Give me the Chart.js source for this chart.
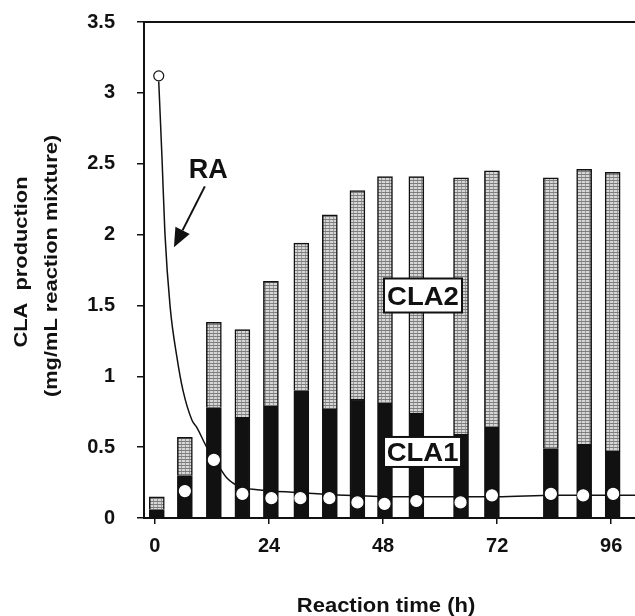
<!DOCTYPE html>
<html>
<head>
<meta charset="utf-8">
<script src="https://cdn.jsdelivr.net/npm/chart.js@4.4.0/dist/chart.umd.min.js"></script>
<style>
  html, body { margin: 0; padding: 0; background: #fff; }
  canvas { display: block; }
</style>
</head>
<body>
<canvas id="myChart" width="635" height="616"></canvas>
<script>
// sampling times (h) as placed in the figure
const times = [0.4, 6.3, 12.4, 18.4, 24.4, 30.8, 36.8, 42.6, 48.4, 55, 64.4, 70.9, 83.3, 90.3, 96.3];
const cla1 = [0.06, 0.30, 0.78, 0.71, 0.79, 0.90, 0.77, 0.84, 0.81, 0.74, 0.59, 0.64, 0.49, 0.52, 0.47];
const cla2 = [0.09, 0.27, 0.60, 0.62, 0.88, 1.04, 1.37, 1.47, 1.60, 1.67, 1.81, 1.81, 1.91, 1.94, 1.97];

const raTimes = [0.8, 6.3, 12.4, 18.4, 24.5, 30.6, 36.7, 42.6, 48.3, 55, 64.3, 70.9, 83.3, 90.1, 96.4];
const ra = [3.12, 0.19, 0.41, 0.17, 0.14, 0.14, 0.14, 0.11, 0.10, 0.12, 0.11, 0.16, 0.17, 0.16, 0.17];

// fitted RA curve
const fitTimes = [0.8, 1.5, 2.1, 3.2, 4.6, 5.9, 7.8, 8.8, 10.9, 13, 15.2, 17.9, 21.5, 30, 40, 50, 60, 72, 84, 96, 101];
const fitRa = [3.08, 2.53, 2.01, 1.49, 1.14, 0.90, 0.69, 0.64, 0.50, 0.39, 0.28, 0.22, 0.20, 0.18, 0.16, 0.15, 0.15, 0.15, 0.16, 0.16, 0.16];

const xTicks = [0, 24, 48, 72, 96];
const yTicks = [0, 0.5, 1, 1.5, 2, 2.5, 3, 3.5];

const FONT = "'Liberation Sans', Arial, Helvetica, sans-serif";
const INK = '#111';

let canvas = document.getElementById('myChart');
let ctx0 = canvas.getContext('2d');

function stipple() {
  let c = document.createElement('canvas');
  c.width = 4;
  c.height = 3;
  let g = c.getContext('2d');
  g.fillStyle = '#d6d6d6';
  g.fillRect(0, 0, 4, 3);
  g.fillStyle = '#7e7e7e';
  g.fillRect(0, 0, 4, 1);
  g.fillStyle = '#9a9a9a';
  g.fillRect(1, 1, 1, 2);
  return ctx0.createPattern(c, 'repeat');
}

function txt(ctx, s, x, y, size, sx, rot) {
  ctx.save();
  ctx.translate(x, y);
  if (rot) ctx.rotate(rot);
  ctx.scale(sx, 1);
  ctx.font = 'bold ' + size + 'px ' + FONT;
  ctx.textAlign = 'center';
  ctx.textBaseline = 'alphabetic';
  ctx.fillStyle = INK;
  ctx.fillText(s, 0, 0);
  ctx.restore();
}

function box(ctx, s, cx, cy, w, h, size, sx) {
  ctx.save();
  ctx.fillStyle = '#fff';
  ctx.strokeStyle = INK;
  ctx.lineWidth = 2;
  ctx.fillRect(cx - w / 2, cy - h / 2, w, h);
  ctx.strokeRect(cx - w / 2, cy - h / 2, w, h);
  ctx.restore();
  txt(ctx, s, cx, cy + size * 0.36, size, sx);
}

const labels = {
  id: 'labels',
  afterDatasetsDraw(chart) {
    const { ctx, chartArea: a, scales: { x, y } } = chart;
    ctx.save();
    ctx.strokeStyle = INK;
    ctx.lineWidth = 2;
    ctx.beginPath();
    ctx.moveTo(a.left, a.top);
    ctx.lineTo(a.right, a.top);
    ctx.stroke();

    // RA label + arrow
    txt(ctx, 'RA', x.getPixelForValue(11.2), y.getPixelForValue(2.40), 27, 1);
    let x1 = x.getPixelForValue(10.5), y1 = y.getPixelForValue(2.34);
    let x2 = x.getPixelForValue(4.0), y2 = y.getPixelForValue(1.91);
    let ang = Math.atan2(y2 - y1, x2 - x1);
    let bx = x2 - 19 * Math.cos(ang), by = y2 - 19 * Math.sin(ang);
    ctx.beginPath();
    ctx.moveTo(x1, y1);
    ctx.lineTo(bx, by);
    ctx.stroke();
    ctx.fillStyle = INK;
    ctx.beginPath();
    ctx.moveTo(x2, y2);
    ctx.lineTo(bx + 8 * Math.sin(ang), by - 8 * Math.cos(ang));
    ctx.lineTo(bx - 8 * Math.sin(ang), by + 8 * Math.cos(ang));
    ctx.closePath();
    ctx.fill();
    ctx.restore();

    box(ctx, 'CLA2', x.getPixelForValue(56.4), y.getPixelForValue(1.57), 78, 34, 25, 1.1);
    box(ctx, 'CLA1', x.getPixelForValue(56.3), y.getPixelForValue(0.466), 77, 30, 25, 1.1);
  },
  afterDraw(chart) {
    const { ctx } = chart;
    txt(ctx, 'Reaction time (h)', 386, 612, 20, 1.1);
    txt(ctx, 'CLA  production', 27, 262, 19, 1.15, -Math.PI / 2);
    txt(ctx, '(mg/mL reaction mixture)', 57, 266, 19, 1.15, -Math.PI / 2);
  }
};

new Chart(canvas, {
  type: 'bar',
  data: {
    datasets: [
      {
        label: 'CLA1',
        data: times.map((t, i) => ({ x: t, y: cla1[i] })),
        backgroundColor: INK,
        borderColor: INK,
        borderWidth: 1.5,
        barThickness: 15,
        stack: 'cla',
        order: 2,
      },
      {
        label: 'CLA2',
        data: times.map((t, i) => ({ x: t, y: cla2[i] })),
        backgroundColor: stipple(),
        borderColor: INK,
        borderWidth: 1.5,
        barThickness: 15,
        stack: 'cla',
        order: 2,
      },
      {
        type: 'line',
        label: 'RA fit',
        data: fitTimes.map((t, i) => ({ x: t, y: fitRa[i] })),
        borderColor: INK,
        borderWidth: 1.5,
        pointRadius: 0,
        cubicInterpolationMode: 'monotone',
        stack: 'fit',
        order: 1,
      },
      {
        type: 'line',
        label: 'RA',
        data: raTimes.map((t, i) => ({ x: t, y: ra[i] })),
        showLine: false,
        pointRadius: ra.map((v, i) => (i == 0 ? 5 : 5.5)),
        pointBackgroundColor: '#fff',
        pointBorderColor: ra.map((v, i) => (i == 0 ? INK : '#fff')),
        pointBorderWidth: 1.2,
        stack: 'ra',
        order: 0,
      },
    ],
  },
  options: {
    responsive: false,
    animation: false,
    devicePixelRatio: 1,
    layout: { autoPadding: false, padding: { top: 22, left: 0, right: 0, bottom: 0 } },
    plugins: { legend: { display: false }, tooltip: { enabled: false } },
    scales: {
      x: {
        type: 'linear',
        min: -2.3,
        max: 101,
        offset: false,
        afterBuildTicks: (s) => { s.ticks = xTicks.map((v) => ({ value: v })); },
        afterFit: (s) => { s.height = 98; s.paddingLeft = 0; s.paddingRight = 0; },
        grid: { offset: false, drawOnChartArea: false, tickLength: 6, color: INK, lineWidth: 1.5 },
        border: { color: INK, width: 2 },
        ticks: {
          padding: 10,
          color: INK,
          autoSkip: false,
          maxRotation: 0,
          callback: (v) => String(v),
          font: { family: FONT, size: 20, weight: 'bold' },
        },
      },
      y: {
        min: 0,
        max: 3.5,
        stacked: true,
        afterBuildTicks: (s) => { s.ticks = yTicks.map((v) => ({ value: v })); },
        afterFit: (s) => { s.width = 144; s.paddingTop = 0; s.paddingBottom = 0; },
        grid: { drawOnChartArea: false, tickLength: 7, color: INK, lineWidth: 1.5 },
        border: { color: INK, width: 2 },
        ticks: {
          padding: 22,
          color: INK,
          callback: (v) => String(v),
          font: { family: FONT, size: 20, weight: 'bold' },
        },
      },
    },
  },
  plugins: [labels],
});
</script>
</body>
</html>
